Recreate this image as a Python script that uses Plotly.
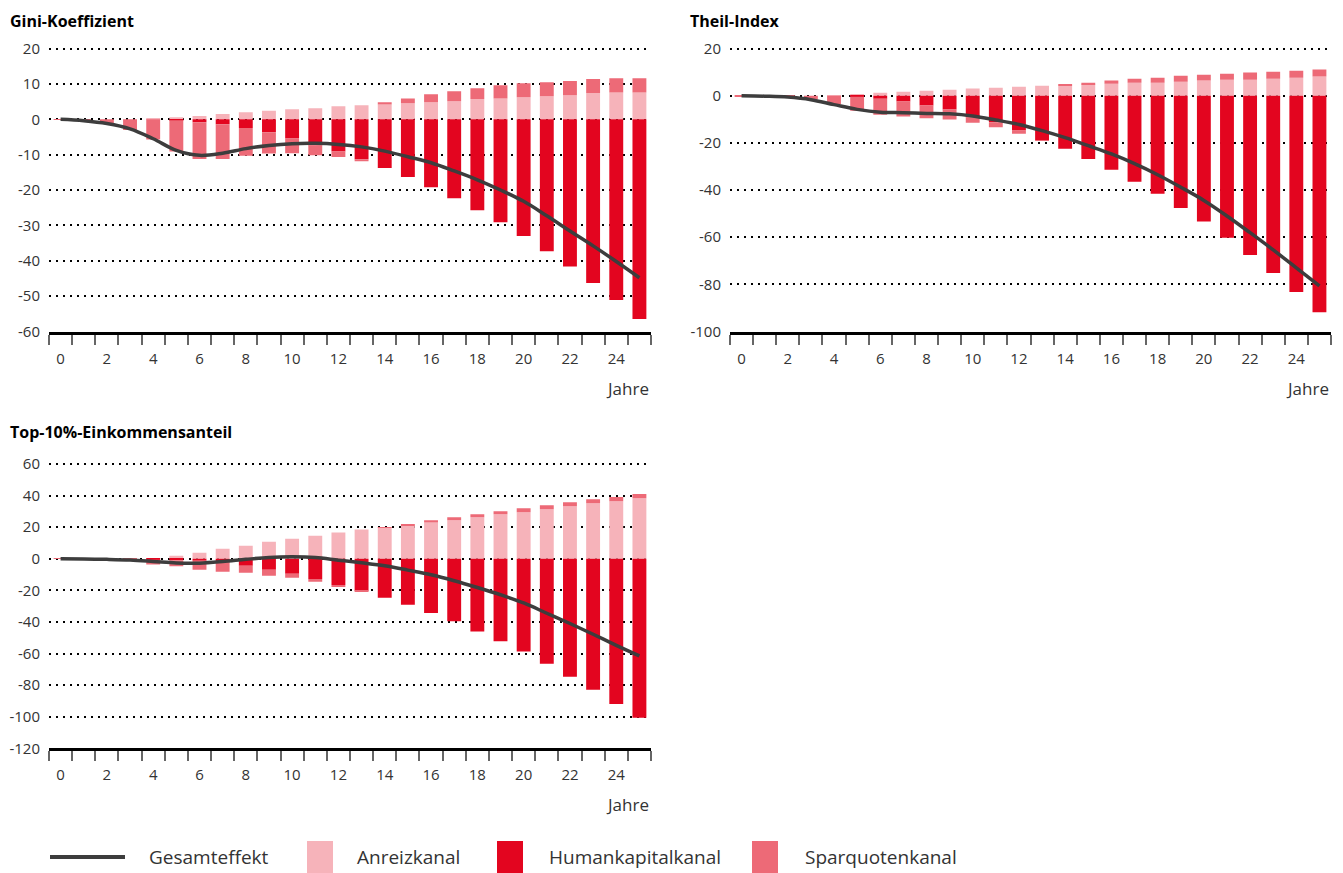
import plotly.graph_objects as go

# Jahre nach der Reform
years = list(range(26))
year_ticks = list(range(0, 25, 2))

# Gini-Koeffizient
gini_anreiz = [0, 0, 0, 0, 0.3, 0.6, 0.9, 1.5, 2.0, 2.4, 2.8, 3.1, 3.7, 4.0, 4.2, 4.5,
               4.8, 5.1, 5.7, 5.9, 6.2, 6.5, 6.8, 7.4, 7.6, 7.6]
gini_human = [0, 0, 0, 0, 0, -0.3, -0.85, -1.4, -2.5, -3.7, -5.4, -7.4, -9.1, -11.3, -13.8,
              -16.3, -19.2, -22.3, -25.7, -29.1, -33.0, -37.3, -41.6, -46.3, -51.1, -56.5]
gini_spar = [-0.2, -0.3, -1.2, -3.0, -5.7, -8.8, -10.4, -9.8, -7.8, -6.0, -4.2, -2.8, -1.6,
             -0.6, 0.6, 1.4, 2.3, 2.8, 3.1, 3.7, 4.0, 4.0, 4.0, 4.0, 4.0, 4.0]
gini_total = [0, -0.4, -1.2, -2.7, -5.5, -8.8, -10.2, -9.6, -8.3, -7.4, -6.9, -6.8, -7.1,
              -7.8, -9.0, -10.6, -12.3, -14.6, -17.1, -20.0, -23.2, -27.3, -31.6, -35.8,
              -40.2, -44.8]

# Theil-Index
theil_anreiz = [0, 0, 0, 0, 0.1, 0.6, 1.2, 1.7, 2.1, 2.5, 3.0, 3.4, 3.8, 4.2, 4.2, 4.7,
                5.1, 5.5, 5.5, 5.9, 6.4, 6.8, 6.8, 7.2, 7.6, 8.1]
theil_human = [0, 0, 0, 0, 0, -0.4, -1.3, -2.5, -4.2, -5.9, -9.2, -11.3, -14.8, -18.8, -22.5,
               -26.8, -31.4, -36.5, -41.6, -47.6, -53.4, -60.2, -67.6, -75.2, -83.3, -91.8]
theil_spar = [-0.2, -0.3, -0.5, -1.6, -3.5, -6.0, -6.8, -6.3, -5.4, -4.2, -2.3, -2.1, -1.3,
              -0.2, 0.4, 0.8, 1.3, 1.7, 2.1, 2.6, 2.5, 2.5, 3.0, 3.0, 3.0, 3.0]
theil_total = [0, -0.2, -0.6, -1.7, -3.8, -5.8, -7.0, -7.2, -7.5, -7.7, -8.6, -10.3, -12.2,
               -14.8, -17.8, -21.2, -24.7, -28.8, -33.5, -38.8, -44.4, -51.0, -58.1, -65.4,
               -73.0, -80.7]

# Top-10%-Einkommensanteil
top_anreiz = [0, 0, 0.1, 0.2, 0.4, 1.9, 3.8, 6.3, 8.2, 10.8, 12.7, 14.6, 16.6, 18.5, 19.6,
              21.1, 23.0, 24.3, 26.2, 28.1, 29.4, 31.3, 33.2, 35.1, 36.4, 38.3]
top_human = [0, 0, 0, 0, -0.6, -1.0, -1.3, -2.4, -4.4, -7.0, -9.5, -12.8, -16.7, -20.2, -24.7,
             -29.1, -34.3, -39.6, -46.0, -52.3, -58.7, -66.4, -74.7, -83.0, -91.9, -100.6]
top_spar = [-0.1, -0.1, -0.3, -0.7, -3.1, -3.8, -5.7, -5.8, -4.4, -3.8, -2.5, -1.8, -1.2,
            -0.6, 0.4, 0.6, 1.3, 1.9, 1.9, 1.9, 2.6, 2.6, 2.6, 2.6, 2.6, 2.6]
top_total = [0, -0.2, -0.4, -0.8, -1.7, -2.7, -2.8, -1.8, -0.4, 0.8, 1.2, 0.8, -0.9, -2.6,
             -4.5, -7.2, -10.1, -13.9, -18.2, -22.8, -28.0, -34.5, -41.0, -47.8, -54.8, -61.5]

gini_yticks = [-60, -50, -40, -30, -20, -10, 0, 10, 20]
theil_yticks = [-100, -80, -60, -40, -20, 0, 20]
top_yticks = [-120, -100, -80, -60, -40, -20, 0, 20, 40, 60]

series_names = ["Gesamteffekt", "Anreizkanal", "Humankapitalkanal", "Sparquotenkanal"]

C_LINE = "#3d3d3d"
C_ANREIZ = "#f6b3ba"
C_HUMAN = "#e3051f"
C_SPAR = "#ed6a77"
FONT = "Open Sans"

W, H = 1343, 873
SHIFT = 8  # body margin of the html page


def px(x):
    return (x - SHIFT) / W


def py(y):
    return 1 - (y - SHIFT) / H


fig = go.Figure()

panels = [
    ("x", "y", gini_anreiz, gini_human, gini_spar, gini_total),
    ("x2", "y2", theil_anreiz, theil_human, theil_spar, theil_total),
    ("x3", "y3", top_anreiz, top_human, top_spar, top_total),
]

for xa, ya, anr, hum, spa, tot in panels:
    fig.add_trace(go.Bar(x=years, y=anr, name=series_names[1], marker_color=C_ANREIZ,
                         marker_line_width=0, xaxis=xa, yaxis=ya, showlegend=False))
    fig.add_trace(go.Bar(x=years, y=hum, name=series_names[2], marker_color=C_HUMAN,
                         marker_line_width=0, xaxis=xa, yaxis=ya, showlegend=False))
    fig.add_trace(go.Bar(x=years, y=spa, name=series_names[3], marker_color=C_SPAR,
                         marker_line_width=0, xaxis=xa, yaxis=ya, showlegend=False))
    fig.add_trace(go.Scatter(x=years, y=tot, name=series_names[0], mode="lines",
                             line=dict(color=C_LINE, width=3.5, shape="spline"),
                             xaxis=xa, yaxis=ya, showlegend=False))

xaxis_common = dict(
    range=[-0.5, 25.5], tickvals=year_ticks, ticktext=[str(v) for v in year_ticks],
    ticks="", showgrid=False, zeroline=False, showline=True, linecolor="black",
    linewidth=3, tickfont=dict(family=FONT, size=15, color="#333"),
    ticklabelstandoff=11, fixedrange=True, automargin=False,
    minor=dict(ticks="outside", tick0=-0.5, dtick=1, ticklen=10, tickwidth=1.5,
               tickcolor="#666", showgrid=False),
)


def yaxis_common(ticks, rng):
    return dict(
        range=rng, tickvals=ticks, ticktext=[str(v) for v in ticks], ticks="",
        showgrid=True, gridcolor="black", gridwidth=1.5, griddash="2px,5px",
        zeroline=False, showline=False, tickfont=dict(family=FONT, size=15, color="#333"),
        ticklabelstandoff=8, fixedrange=True, automargin=False,
    )


gx = [px(49), px(651)]
tx = [px(730), px(1331)]
top_row = [py(331.5), py(45)]
bottom_row = [py(748.3), py(460)]

fig.update_layout(
    width=W, height=H,
    margin=dict(l=0, r=0, t=0, b=0, autoexpand=False),
    paper_bgcolor="white", plot_bgcolor="white",
    barmode="relative", bargap=0.4, showlegend=False,
    font=dict(family=FONT, color="#333"),
    xaxis=dict(xaxis_common, domain=gx, anchor="y"),
    yaxis=dict(yaxis_common(gini_yticks, [-60, 21]), domain=top_row, anchor="x"),
    xaxis2=dict(xaxis_common, domain=tx, anchor="y2"),
    yaxis2=dict(yaxis_common(theil_yticks, [-100, 21.5]), domain=top_row, anchor="x2"),
    xaxis3=dict(xaxis_common, domain=gx, anchor="y3"),
    yaxis3=dict(yaxis_common(top_yticks, [-120, 62.5]), domain=bottom_row, anchor="x3"),
)

titles = [("Gini-Koeffizient", 8, 8, "top"), ("Theil-Index", 688, 8, "top"),
          ("Top-10%-Einkommensanteil", 8, 432, "middle")]
for text, x0, y0, anchor in titles:
    fig.add_annotation(text="<b>" + text + "</b>", xref="paper", yref="paper",
                       x=px(x0), y=py(y0), xanchor="left", yanchor=anchor,
                       showarrow=False, font=dict(family=FONT, size=16, color="black"))

for x0, y0 in [(651, 388), (1331, 388), (651, 804)]:
    fig.add_annotation(text="Jahre", xref="paper", yref="paper", x=px(x0), y=py(y0),
                       xanchor="right", yanchor="middle", showarrow=False,
                       font=dict(family=FONT, size=17, color="#333"))

# Legende von Hand
fig.add_shape(type="line", xref="paper", yref="paper", x0=px(50), x1=px(125),
              y0=py(857), y1=py(857), line=dict(color=C_LINE, width=4))
for color, x0 in [(C_ANREIZ, 307), (C_HUMAN, 497), (C_SPAR, 752)]:
    fig.add_shape(type="rect", xref="paper", yref="paper", x0=px(x0), x1=px(x0 + 26),
                  y0=py(874), y1=py(841), line_width=0, fillcolor=color)
for name, x0 in zip(series_names, [147, 355, 547, 803]):
    fig.add_annotation(text=name, xref="paper", yref="paper", x=px(x0), y=py(857),
                       xanchor="left", yanchor="middle", showarrow=False,
                       font=dict(family=FONT, size=19, color="#333"))

fig.write_html("out.html")
